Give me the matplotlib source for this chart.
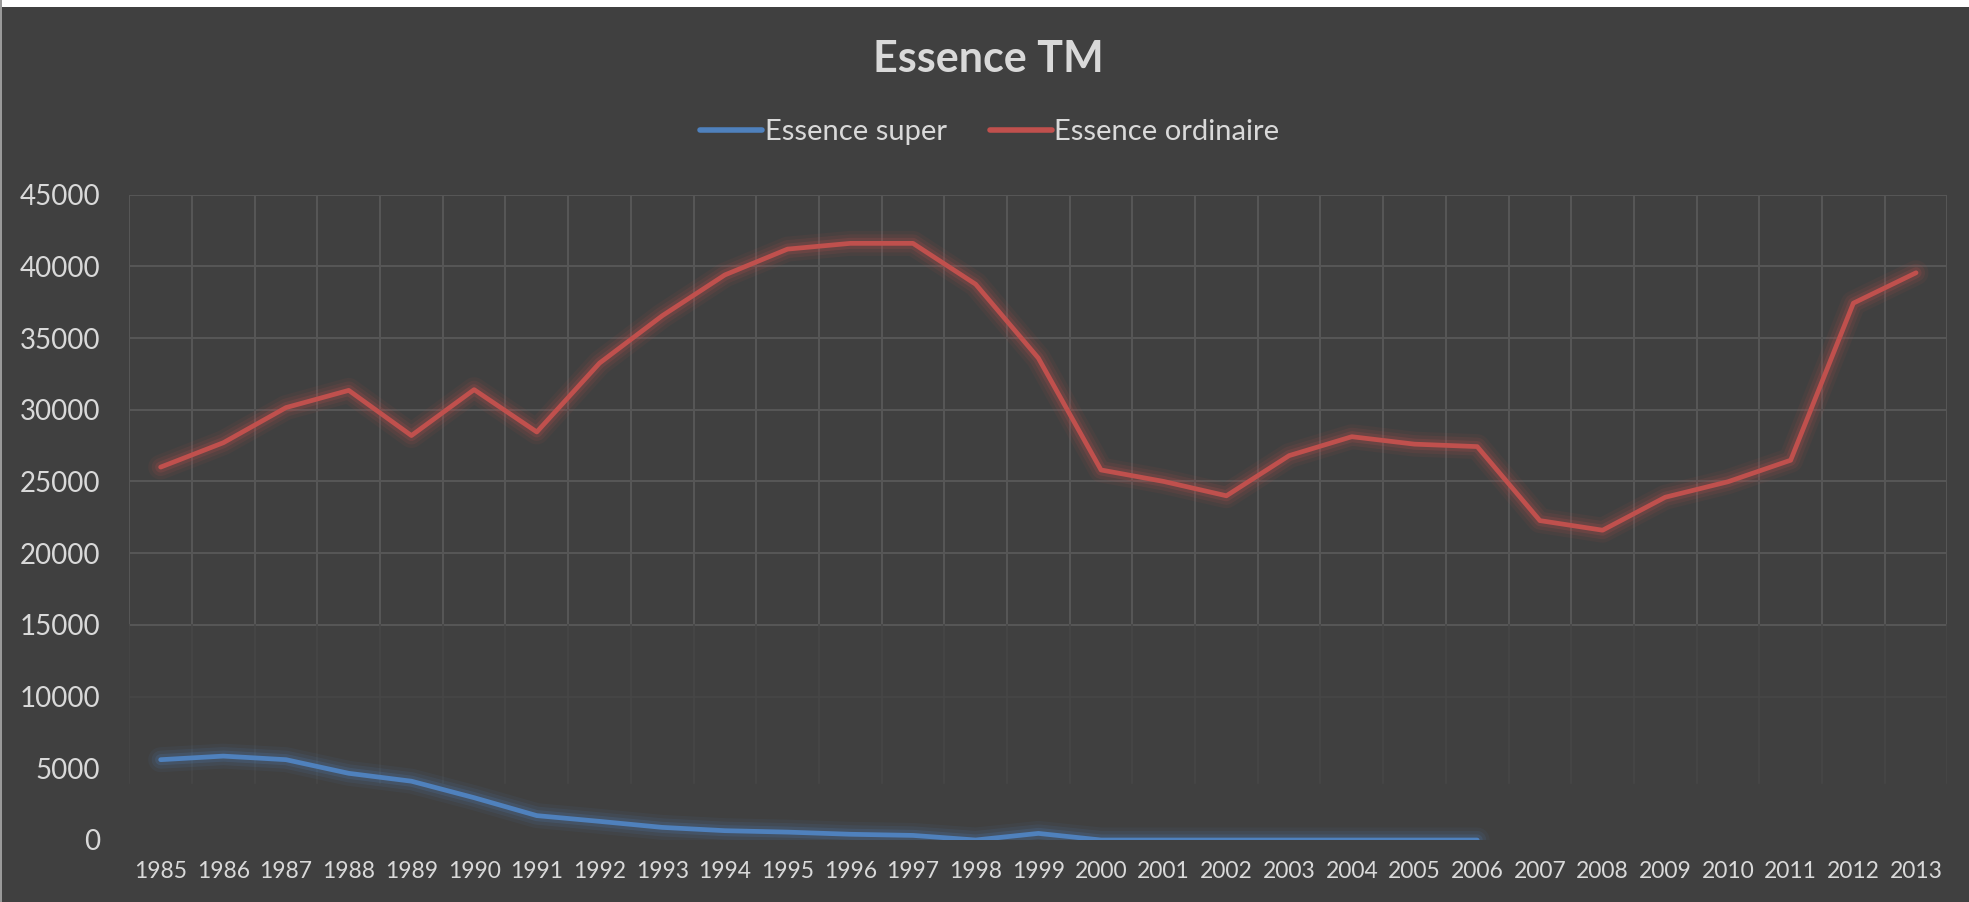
'''
Essence TM - super vs ordinaire, 1985-2013 (Excel-style dark chart)
'''
import matplotlib
matplotlib.use('Agg')
import matplotlib.pyplot as plt
import matplotlib.patheffects as pe
from matplotlib.patches import Rectangle
import numpy as np

years = [str(y) for y in range(1985, 2014)]

# Essence super stops after 2006
super_years = years[:22]
essence_super = [5600, 5850, 5600, 4650, 4100, 2950, 1700, 1300, 880, 650, 550,
                 400, 320, 0, 460, 0, 0, 0, 0, 0, 0, 0]

essence_ordinaire = [26000, 27700, 30150, 31350, 28200, 31400, 28450, 33250, 36550,
                     39400, 41200, 41600, 41600, 38750, 33600, 25800, 25000, 24000,
                     26800, 28120, 27600, 27430, 22270, 21600, 23900, 24980, 26480,
                     37430, 39550]

BG = '#404040'
GRID = '#575757'
GRID_FAINT = '#474747'
TXT = '#d9d9d9'
BLUE = '#4f81bd'
RED = '#c0504d'
FONT = 'Lato'

fig = plt.figure(figsize=(19.69, 9.02), dpi=100, facecolor=BG)
ax = fig.add_axes([129.3/1969, 62/902, 1818.1/1969, 645.4/902])
ax.set_facecolor(BG)

x = np.arange(len(years))
xs = np.arange(len(super_years))

# grid by hand (boundaries between categories, fading near the bottom)
for v in range(15000, 45001, 5000):
    ax.axhline(v, color=GRID, lw=1.4, zorder=0)
ax.axhline(10000, color=GRID_FAINT, lw=1.2, zorder=0)
for b in np.arange(-0.5, len(years), 1.0):
    ax.plot([b, b], [15000, 45000], color=GRID, lw=1.4, zorder=0)
    ax.plot([b, b], [4000, 15000], color=GRID_FAINT, lw=1.2, zorder=0)

def glow(col):
    return [pe.Stroke(linewidth=18, foreground=col, alpha=0.07),
            pe.Stroke(linewidth=13, foreground=col, alpha=0.11),
            pe.Stroke(linewidth=8, foreground=col, alpha=0.18),
            pe.Normal()]

ax.plot(xs, essence_super, color=BLUE, lw=3.4, solid_capstyle='round',
        solid_joinstyle='round', label='Essence super',
        path_effects=glow(BLUE), zorder=3)
ax.plot(x, essence_ordinaire, color=RED, lw=3.4, solid_capstyle='round',
        solid_joinstyle='round', label='Essence ordinaire',
        path_effects=glow(RED), zorder=3)

ax.set_xlim(-0.5, len(years) - 0.5)
ax.set_ylim(0, 45000)
ax.set_xticks(x)
ax.set_xticklabels(years, fontsize=16.5, color=TXT, family=FONT)
ax.set_yticks(range(0, 45001, 5000))
ax.set_yticklabels([str(v) for v in range(0, 45001, 5000)], fontsize=20,
                   color=TXT, family=FONT)
ax.tick_params(axis='both', length=0)
ax.tick_params(axis='y', pad=21)
ax.tick_params(axis='x', pad=15)
for s in ax.spines.values():
    s.set_visible(False)

fig.text(988/1969, 1 - 59/902, 'Essence TM', ha='center', va='center',
         fontsize=31, fontweight='bold', color=TXT, family=FONT)

leg = fig.legend(handles=[ax.lines[-2], ax.lines[-1]], loc='center',
                 bbox_to_anchor=(990/1969, 1 - 132/902), ncol=2, frameon=False,
                 handlelength=2.1, handletextpad=0.1, columnspacing=1.5,
                 prop={'family': FONT, 'size': 21})
for t in leg.get_texts():
    t.set_color(TXT)
for h in leg.legend_handles:
    h.set_path_effects([])
    h.set_linewidth(4)

# white strip at top and light left edge like the screenshot
fig.patches.append(Rectangle((0, 1 - 7/902), 1, 7/902, transform=fig.transFigure,
                             facecolor='white', edgecolor='none'))
fig.patches.append(Rectangle((0, 0), 2/1969, 1, transform=fig.transFigure,
                             facecolor='#9a9a9a', edgecolor='none'))

fig.savefig('out.png', dpi=100, facecolor=BG)
